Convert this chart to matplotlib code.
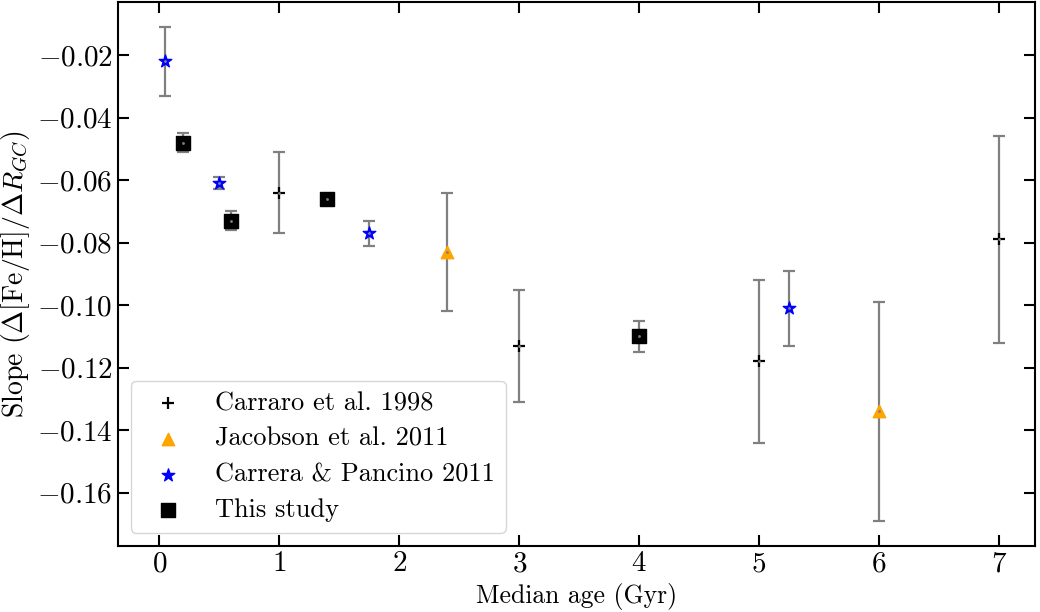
import matplotlib
matplotlib.use("Agg")
import matplotlib.pyplot as plt

# slope of the radial metallicity gradient vs median age
carraro_age = [1, 3, 5, 7]
carraro_slope = [-0.064, -0.113, -0.118, -0.079]
carraro_err = [0.013, 0.018, 0.026, 0.033]

jacobson_age = [2.4, 6]
jacobson_slope = [-0.083, -0.134]
jacobson_err = [0.019, 0.035]

carrera_age = [0.05, 0.5, 1.75, 5.25]
carrera_slope = [-0.022, -0.061, -0.077, -0.101]
carrera_err = [0.011, 0.002, 0.004, 0.012]

study_age = [0.2, 0.6, 1.4, 4.0]
study_slope = [-0.048, -0.073, -0.066, -0.110]
study_err = [0.003, 0.003, 0.001, 0.005]

plt.rcParams["font.family"] = "serif"
plt.rcParams["font.serif"] = ["cmr10"]
plt.rcParams["mathtext.fontset"] = "cm"
plt.rcParams["axes.formatter.use_mathtext"] = True
plt.rcParams["font.size"] = 20


def main():
    fig, ax = plt.subplots(figsize=(10.4, 6.12), dpi=100)

    groups = [
        (carraro_age, carraro_slope, carraro_err, "+", "black", 70, "Carraro et al. 1998"),
        (jacobson_age, jacobson_slope, jacobson_err, "^", "orange", 80, "Jacobson et al. 2011"),
        (carrera_age, carrera_slope, carrera_err, "*", "blue", 90, "Carrera & Pancino 2011"),
        (study_age, study_slope, study_err, "s", "black", 90, "This study"),
    ]
    for x, y, e, m, c, s, lab in groups:
        ax.errorbar(x, y, yerr=e, fmt="none", ecolor="gray", elinewidth=1.6,
                    capsize=4, capthick=1.6, zorder=1)
        ax.scatter(x, y, marker=m, color=c, s=s, linewidths=1.6 if m == "+" else 1,
                   label=lab, zorder=2)
        ax.plot(x, y, ".", color="gray", ms=2, zorder=3)

    ax.set_xlim(-0.35, 7.3)
    ax.set_ylim(-0.177, -0.003)
    ax.set_xlabel("Median age (Gyr)", fontsize=18.5)
    ax.set_ylabel(r"Slope $(\Delta[\mathrm{Fe/H}]/\Delta R_{GC})$", fontsize=20)

    ax.tick_params(direction="in", length=8, width=1.5, top=True, right=True, labelsize=21)
    for sp in ax.spines.values():
        sp.set_linewidth(1.5)

    ax.legend(loc="lower left", fontsize=19, handletextpad=0.8, borderpad=0.4,
              labelspacing=0.45)

    fig.subplots_adjust(left=0.113, right=0.995, top=0.997, bottom=0.108)
    fig.savefig("out.png", dpi=100)


main()
